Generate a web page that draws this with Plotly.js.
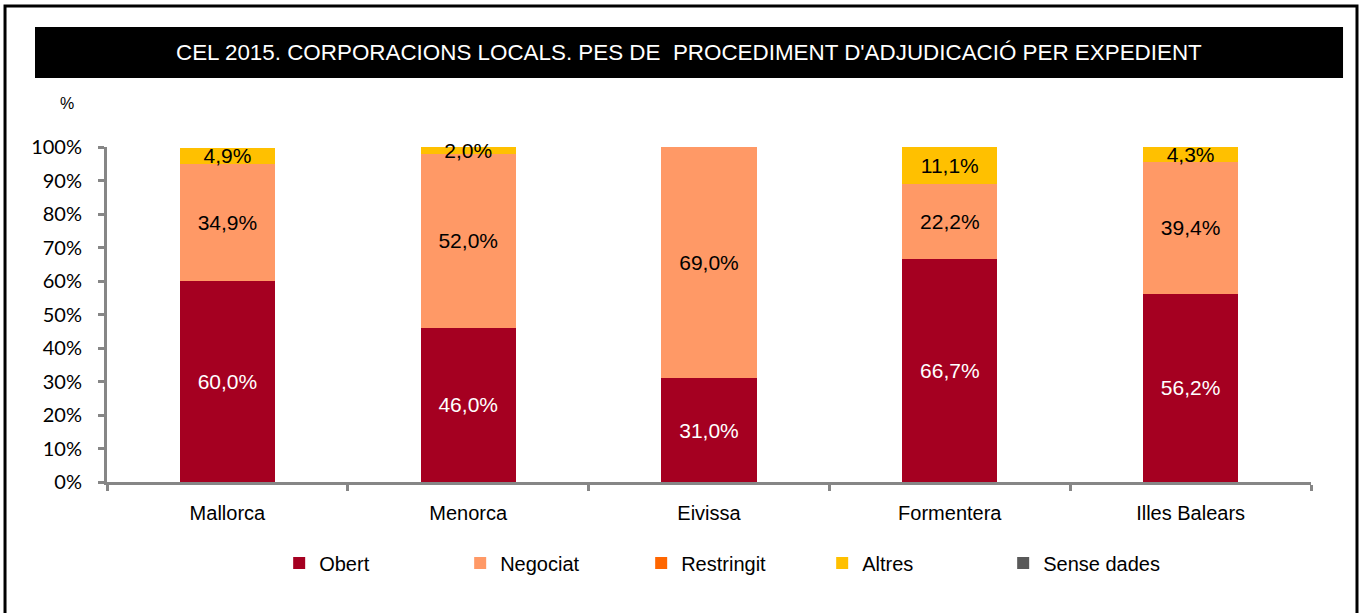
<!DOCTYPE html>
<html>
<head>
<meta charset="utf-8">
<script src="https://cdn.plot.ly/plotly-3.0.1.min.js"></script>
<style>html,body{margin:0;padding:0;background:#fff;}#chart{width:1362px;height:613px;}</style>
</head>
<body>
<div id="chart"></div>
<script>
const categories = ["Mallorca", "Menorca", "Eivissa", "Formentera", "Illes Balears"];
const obert = [60.0, 46.0, 31.0, 66.7, 56.2];
const negociat = [34.9, 52.0, 69.0, 22.2, 39.4];
const restringit = [0, 0, 0, 0, 0];
const altres = [4.9, 2.0, 0, 11.1, 4.3];
const senseDades = [0, 0, 0, 0, 0];
const seriesNames = ["Obert", "Negociat", "Restringit", "Altres", "Sense dades"];
const yTickVals = [0, 10, 20, 30, 40, 50, 60, 70, 80, 90, 100];
const yTickText = ["0%", "10%", "20%", "30%", "40%", "50%", "60%", "70%", "80%", "90%", "100%"];
const titleText = "CEL 2015. CORPORACIONS LOCALS. PES DE  PROCEDIMENT D'ADJUDICACIÓ PER EXPEDIENT";

const NARROW = "'Liberation Sans Narrow', 'Arial Narrow', 'Liberation Sans', sans-serif";
const colors = ["#A50021", "#FF9966", "#FF6600", "#FFC000", "#595959"];
const textColors = ["#FFFFFF", "#000000", "#000000", "#000000", "#FFFFFF"];
const allValues = [obert, negociat, restringit, altres, senseDades];

function fmt(v) { return v > 0 ? v.toFixed(1).replace('.', ',') + '%' : ''; }

const traces = allValues.map((vals, i) => ({
  type: 'bar',
  name: seriesNames[i],
  x: categories,
  y: vals,
  text: vals.map(fmt),
  textposition: 'inside',
  insidetextanchor: 'middle',
  textangle: 0,
  constraintext: 'none',
  cliponaxis: false,
  textfont: {family: NARROW, size: 21, color: textColors[i]},
  marker: {color: colors[i], line: {width: 0}},
  hoverinfo: 'skip'
}));

const layout = {
  width: 1362,
  height: 613,
  barmode: 'stack',
  bargap: 0.605,
  paper_bgcolor: '#FFFFFF',
  plot_bgcolor: '#FFFFFF',
  margin: {l: 107, r: 51, t: 147, b: 131, pad: 0},
  showlegend: true,
  legend: {
    orientation: 'h',
    x: 0.143, xanchor: 'left',
    y: -0.242, yanchor: 'middle',
    entrywidth: 136, entrywidthmode: 'pixels',
    traceorder: 'normal',
    font: {family: NARROW, size: 20, color: '#000'},
    itemclick: false
  },
  xaxis: {
    type: 'category',
    showline: true, linecolor: '#868686', linewidth: 3,
    ticks: 'outside', tickson: 'boundaries', ticklen: 6, tickwidth: 3, tickcolor: '#868686',
    tickfont: {family: NARROW, size: 20, color: '#000'},
    ticklabelstandoff: 11,
    showgrid: false, zeroline: false, fixedrange: true
  },
  yaxis: {
    range: [0, 100],
    tickvals: yTickVals, ticktext: yTickText,
    showline: true, linecolor: '#868686', linewidth: 3,
    ticks: 'outside', ticklen: 6, tickwidth: 3, tickcolor: '#868686',
    tickfont: {family: "Lato, 'Noto Sans', sans-serif", size: 20, color: '#000'},
    ticklabelstandoff: 12,
    showgrid: false, zeroline: false, fixedrange: true
  },
  shapes: [
    {type: 'rect', xref: 'paper', yref: 'paper', x0: -0.0847, x1: 1.0382, y0: -0.42, y1: 1.421,
     line: {color: '#000', width: 3}, fillcolor: 'rgba(0,0,0,0)', layer: 'below'},
    {type: 'rect', xref: 'paper', yref: 'paper', x0: -0.0598, x1: 1.0266, y0: 1.206, y1: 1.358,
     line: {width: 0}, fillcolor: '#000', layer: 'below'}
  ],
  annotations: [
    {text: titleText, xref: 'paper', yref: 'paper', x: 0.4834, y: 1.282, xanchor: 'center', yanchor: 'middle',
     showarrow: false, font: {family: NARROW, size: 22.4, color: '#FFFFFF'}},
    {text: '%', xref: 'paper', yref: 'paper', x: -0.033, y: 1.131, xanchor: 'center', yanchor: 'middle',
     showarrow: false, font: {family: NARROW, size: 16, color: '#000'}}
  ]
};

Plotly.newPlot('chart', traces, layout, {displayModeBar: false, staticPlot: true});
</script>
</body>
</html>
